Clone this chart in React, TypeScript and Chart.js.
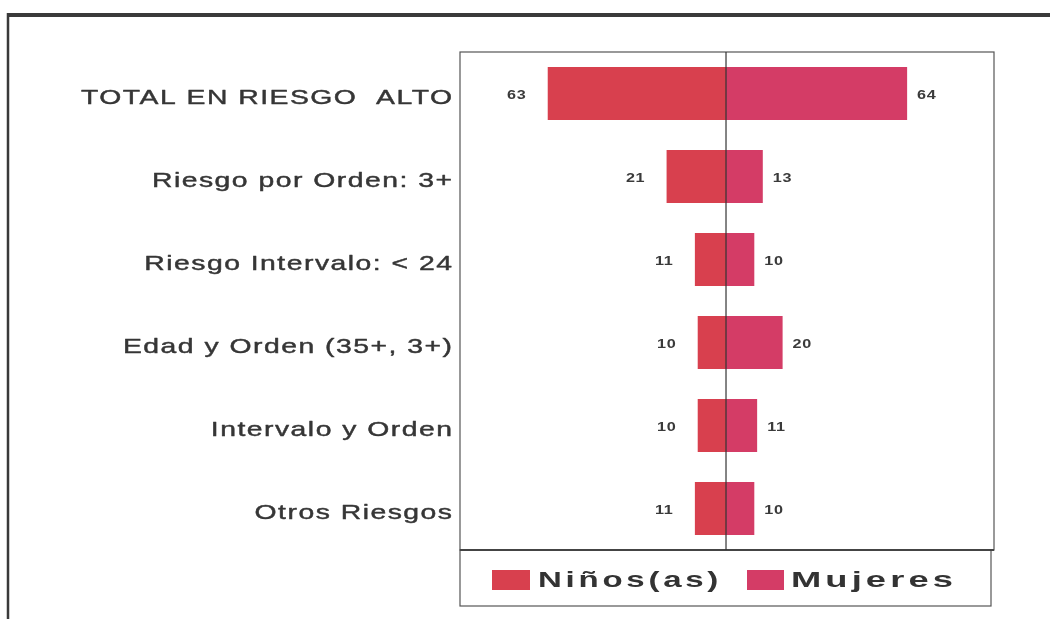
import React, { useEffect, useRef } from "react";
import { Chart, registerables } from "chart.js";

Chart.register(...registerables);

const categories = [
  "TOTAL EN RIESGO  ALTO",
  "Riesgo por Orden: 3+",
  "Riesgo Intervalo: < 24",
  "Edad y Orden (35+, 3+)",
  "Intervalo y Orden",
  "Otros Riesgos",
];
const ninos = [63, 21, 11, 10, 10, 11];
const mujeres = [64, 13, 10, 20, 11, 10];
const seriesNames = ["Niños(as)", "Mujeres"];
const colors = ["#d8404e", "#d43c66"];

// draws text stretched horizontally (extended face look)
function wideText(
  ctx: CanvasRenderingContext2D,
  text: string,
  x: number,
  y: number,
  sx: number,
  spacing: number,
  align: "left" | "right",
  thicken = 0
) {
  ctx.save();
  (ctx as any).letterSpacing = spacing + "px";
  ctx.textAlign = "left";
  const w = (ctx.measureText(text).width - spacing) * sx;
  const startX = align === "right" ? x - w : x;
  ctx.translate(startX, y);
  ctx.scale(sx, 1);
  ctx.fillText(text, 0, 0);
  if (thicken > 0) {
    ctx.strokeStyle = ctx.fillStyle as string;
    ctx.lineWidth = thicken;
    ctx.lineJoin = "round";
    ctx.strokeText(text, 0, 0);
  }
  ctx.restore();
}

const framePlugin = {
  id: "frame",
  beforeDraw(chart: any) {
    const ctx = chart.ctx;
    const { left, right, top, bottom } = chart.chartArea;
    ctx.save();
    ctx.fillStyle = "#ffffff";
    ctx.fillRect(0, 0, chart.width, chart.height);
    // outer frame
    ctx.strokeStyle = "#3a3a3a";
    ctx.lineWidth = 4;
    ctx.beginPath();
    ctx.moveTo(8, 15);
    ctx.lineTo(chart.width, 15);
    ctx.stroke();
    ctx.lineWidth = 2.5;
    ctx.beginPath();
    ctx.moveTo(8, 13);
    ctx.lineTo(8, chart.height);
    ctx.stroke();
    // plot box
    ctx.strokeStyle = "#555";
    ctx.lineWidth = 1.2;
    ctx.strokeRect(left, top, right - left, bottom - top);
    // legend box
    ctx.strokeRect(left, bottom, right - left - 3, 56);
    ctx.lineWidth = 2;
    ctx.strokeStyle = "#444";
    ctx.beginPath();
    ctx.moveTo(left, bottom);
    ctx.lineTo(right, bottom);
    ctx.stroke();

    // category labels from the y scale
    const yScale = chart.scales.y;
    ctx.font = "21px 'Liberation Sans', Arial, sans-serif";
    ctx.fillStyle = "#363636";
    ctx.textBaseline = "alphabetic";
    yScale.ticks.forEach((t: any, i: number) => {
      const label = yScale.getLabelForValue(t.value);
      wideText(ctx, label, left - 8, yScale.getPixelForTick(i) + 10, 1.35, 1.1, "right", 0.45);
    });
    ctx.restore();
  },
  afterDatasetsDraw(chart: any) {
    const ctx = chart.ctx;
    const { top, bottom } = chart.chartArea;
    const x0 = chart.scales.x.getPixelForValue(0);
    ctx.save();
    ctx.strokeStyle = "#333";
    ctx.lineWidth = 1.2;
    ctx.beginPath();
    ctx.moveTo(x0, top);
    ctx.lineTo(x0, bottom);
    ctx.stroke();

    // value labels
    ctx.font = "bold 12px 'Liberation Sans', Arial, sans-serif";
    ctx.fillStyle = "#3a3a3a";
    ctx.textBaseline = "alphabetic";
    const m0 = chart.getDatasetMeta(0);
    const m1 = chart.getDatasetMeta(1);
    m0.data.forEach((bar: any, i: number) => {
      wideText(ctx, String(ninos[i]), bar.x - 22, bar.y + 5, 1.35, 0.5, "right");
    });
    m1.data.forEach((bar: any, i: number) => {
      wideText(ctx, String(mujeres[i]), bar.x + 10, bar.y + 5, 1.35, 0.5, "left");
    });

    // legend
    const legendY = bottom + 30;
    const items = [
      { x: 492, w: 38, text: seriesNames[0], tx: 538, sx: 1.5, color: colors[0] },
      { x: 747, w: 37, text: seriesNames[1], tx: 791, sx: 1.65, color: colors[1] },
    ];
    ctx.font = "bold 22px 'Liberation Sans', Arial, sans-serif";
    ctx.textBaseline = "middle";
    items.forEach((it) => {
      ctx.fillStyle = it.color;
      ctx.fillRect(it.x, legendY - 10, it.w, 20);
      ctx.fillStyle = "#333";
      wideText(ctx, it.text, it.tx, legendY + 1, it.sx, 2.5, "left");
    });
    ctx.restore();
  },
};

export default function App() {
  const ref = useRef<HTMLCanvasElement>(null);
  useEffect(() => {
    document.body.style.margin = "0";
    const chart = new Chart(ref.current!, {
      type: "bar",
      data: {
        labels: categories,
        datasets: [
          {
            label: seriesNames[0],
            data: ninos.map((v) => -v),
            backgroundColor: colors[0],
            barPercentage: 0.64,
            categoryPercentage: 1,
          },
          {
            label: seriesNames[1],
            data: mujeres,
            backgroundColor: colors[1],
            barPercentage: 0.64,
            categoryPercentage: 1,
          },
        ],
      },
      options: {
        animation: false,
        responsive: false,
        indexAxis: "y",
        layout: { padding: { top: 52, right: 56, bottom: 69, left: 0 } },
        plugins: { legend: { display: false }, tooltip: { enabled: false } },
        scales: {
          x: {
            display: false,
            stacked: true,
            min: -94,
            max: 94.7,
          },
          y: {
            stacked: true,
            grid: { display: false, drawTicks: false },
            border: { display: false },
            ticks: { display: false },
            afterFit: (scale: any) => {
              scale.width = 460;
            },
          },
        },
      },
      plugins: [framePlugin],
    });
    return () => chart.destroy();
  }, []);
  return (
    <div style={{ position: "absolute", left: 0, top: 0, width: 1050, height: 619 }}>
      <canvas ref={ref} width={1050} height={619} style={{ width: 1050, height: 619 }} />
    </div>
  );
}
